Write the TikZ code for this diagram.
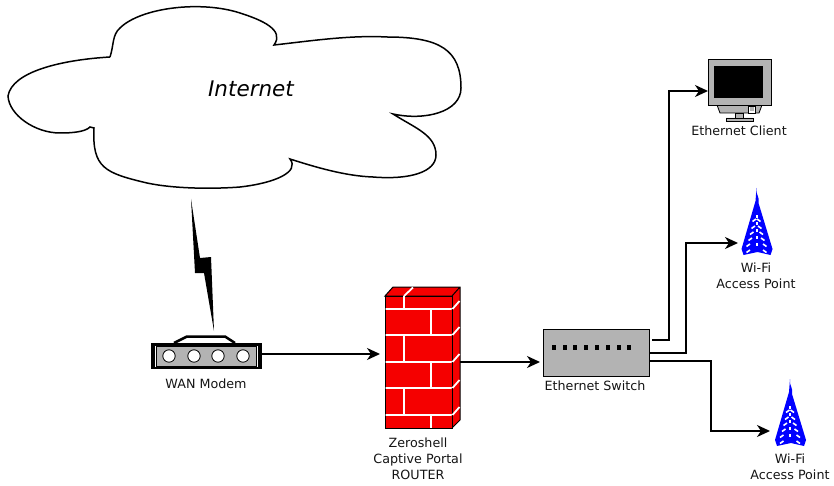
\documentclass[tikz,border=0pt]{standalone}
\usepackage{fontspec}
\setmainfont{DejaVu Sans}
\usetikzlibrary{arrows.meta}
\definecolor{boxgray}{HTML}{B3B3B3}
\definecolor{brickred}{HTML}{F50000}
\begin{document}
\begin{tikzpicture}
  [x=1pt,y=-1pt,line join=miter,every node/.style={inner sep=0pt,outer sep=0pt}]
  \tikzstyle{caption} = [font=\fontsize{12.7}{16}\selectfont,align=center,text=black!92,anchor=north]
  \tikzstyle{link} = [line width=1.8pt,-{Stealth[length=13pt,width=12pt,inset=4pt]}]
  \tikzset{
    tower/.pic={
      \fill[blue] (0,-67) .. controls (-1,-60) and (3,-60) .. (2,-52)
        -- (16,-6) -- (14,0) -- (1,-3) -- (-13,0) -- (-15,-6) -- (-1,-54) -- cycle;
      \foreach \y /\w in {-35/2,-28/3,-22/4.5,-16/6,-10/8,-4/8}
        \draw[white,line width=1.6pt] (-\w-2,\y+1.5) -- (-\w+1.5,\y-1) (\w+2,\y+1.5) -- (\w-1.5,\y-1);
      \foreach \y in {-40,-33,-26,-19,-12}
        \fill[white] (-1,\y) rectangle (1,\y+3);
    }
  }
  \useasboundingbox (0,0) rectangle (834,486);

  % cloud
  \draw[line width=1.5pt] (110,57) .. controls (60,60) and (12,72) .. (8,96)
    .. controls (9,115) and (35,133) .. (60,133)
    .. controls (72,133) and (85,132) .. (90,127) -- (94,128)
    .. controls (92,168) and (105,173) .. (147,183)
    .. controls (175,189) and (215,189) .. (240,187)
    .. controls (275,183) and (300,172) .. (290,159)
    .. controls (315,167) and (345,176) .. (373,177)
    .. controls (410,180) and (436,172) .. (436,155)
    .. controls (436,135) and (415,128) .. (393,114)
    .. controls (425,121) and (461,112) .. (461,88)
    .. controls (461,50) and (440,37) .. (387,37)
    .. controls (350,35) and (310,41) .. (274,45)
    .. controls (285,30) and (262,20) .. (240,13)
    .. controls (200,0) and (140,8) .. (120,28)
    .. controls (112,35) and (114,45) .. (110,57);
  \node (internet) at (251,89) {\fontsize{21.5}{26}\selectfont\itshape Internet};

  % lightning
  \fill (191,199) -- (200,258) -- (211,257) -- (214,331) -- (204,273) -- (195,273) -- cycle;

  % modem
  \draw[line width=2.5pt,fill=white] (174,343) -- (187,336.5) -- (225,336.5) -- (235,343);
  \node[fill=black,minimum width=111pt,minimum height=26pt] (modem) at (206.5,356) {};
  \fill[white] (155,346) rectangle (258,366.5);
  \draw[fill=boxgray,line width=.6pt] (156,346.5) rectangle (256,366);
  \foreach \x in {169,194,218,243}
    \draw[fill=white,line width=.8pt] (\x,356) circle[radius=6.2];
  \node[caption] (modemlabel) at (206,379) {WAN Modem};

  % firewall
  \draw[fill=brickred,line width=1pt] (385,296) -- (393,287) -- (460,287) -- (460,420) -- (452,428) -- (452,296) -- cycle (452,296) -- (460,287);
  \node[draw,line width=1pt,fill=brickred,minimum width=67pt,minimum height=132pt] (wall) at (418.5,362) {};
  \begin{scope}[white,line width=1.8pt]
    \foreach \y in {309,335,362,388,415}
      \draw (385.5,\y) -- (451.5,\y) (452.5,\y) -- (459.5,\y-8);
    \foreach \top /\bot /\x in {296/309/404,309/335/431,335/362/404,362/388/431,388/415/404,415/428/431}
      \draw (\x,\top) -- (\x,\bot);
    \draw (404,296) -- (413,287.5);
  \end{scope}
  \node[caption] (walllabel) at (418,438) {Zeroshell\\Captive Portal\\ROUTER};

  % switch
  \node[draw,line width=1pt,fill=boxgray,minimum width=106pt,minimum height=47pt] (switch) at (596,352.5) {};
  \foreach \x in {554,565,575,586,597,608,619,629}
    \fill (\x-2.4,344.6) rectangle (\x+2.4,349.6);
  \node[caption] (switchlabel) at (595,381) {Ethernet Switch};

  % client
  \draw[fill=boxgray,line width=.8pt] (717,105) -- (762,105) -- (759,113) -- (720,113) -- cycle;
  \draw[fill=white,line width=.7pt] (748.5,106) rectangle (755,113);
  \fill[boxgray] (750,107.5) rectangle (753.5,111.5);
  \draw[fill=boxgray,line width=.8pt] (735,113) rectangle (743,118) (726,118) rectangle (753,121);
  \node[draw,line width=.8pt,fill=boxgray,minimum width=63pt,minimum height=46pt] (client) at (739.5,82) {};
  \fill (714,66) rectangle (763,98);
  \node[caption] (clientlabel) at (739,126) {Ethernet Client};

  % access points
  \pic at (756.5,255) {tower};
  \pic at (790,446) {tower};
  \coordinate (ap1) at (738,243);
  \coordinate (ap2) at (770,431);
  \node[caption] (ap1label) at (756,263) {Wi-Fi\\Access Point};
  \node[caption] (ap2label) at (790,454) {Wi-Fi\\Access Point};

  % links
  \coordinate (modemout) at (262,354);
  \coordinate (wallin) at (380,354);
  \coordinate (wallout) at (460,362);
  \coordinate (switchin) at (540,362);
  \coordinate (clientin) at (708,91);
  \coordinate (swa) at (652,340);
  \coordinate (swb) at (649,353);
  \coordinate (swc) at (649,361);
  \foreach \source /\dest in {modemout/wallin,wallout/switchin}
    \draw[link] (\source) -- (\dest);
  \foreach \source /\dest /\turn in {swa/clientin/669,swb/ap1/686,swc/ap2/711}
    \draw[link] (\source) -- (\turn,0 |- \source) -- (\turn,0 |- \dest) -- (\dest);
\end{tikzpicture}
\end{document}
